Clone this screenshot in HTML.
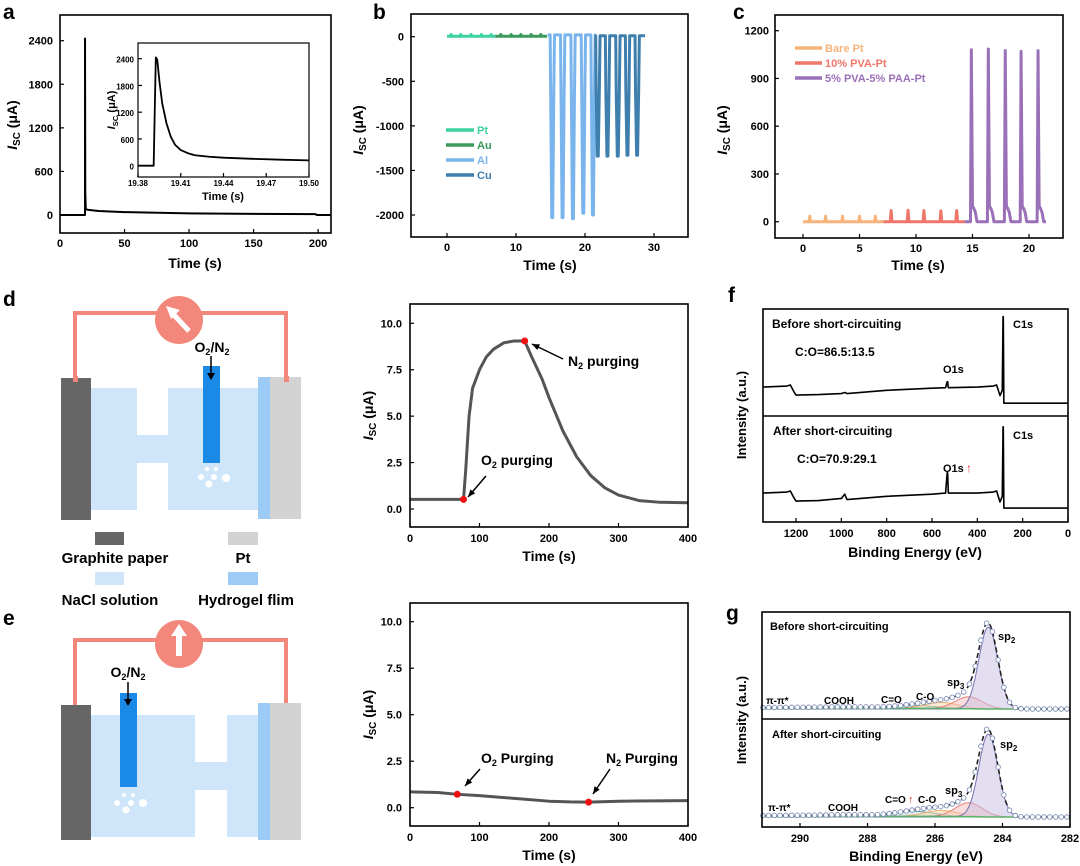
<!DOCTYPE html>
<html><head><meta charset="utf-8"><style>
html,body{margin:0;padding:0;background:#fff;}
svg{display:block;font-family:"Liberation Sans",Arial,sans-serif;font-weight:bold;}
</style></head><body>
<svg id="fig" width="1080" height="866" viewBox="0 0 1080 866" xmlns="http://www.w3.org/2000/svg">
<text x="3" y="19" font-size="21">a</text>
<text x="373" y="19" font-size="21">b</text>
<text x="733" y="19" font-size="21">c</text>
<text x="3" y="306" font-size="21">d</text>
<text x="728" y="302" font-size="21">f</text>
<text x="3" y="625" font-size="21">e</text>
<text x="726" y="620" font-size="21">g</text>

<g>
<polyline points="75,380 75,313 286,313 286,380" fill="none" stroke="#f4877c" stroke-width="4"/>
<rect x="61" y="378" width="30" height="142" fill="#666"/>
<path d="M91,388 H137 V435 H168 V388 H258 V510 H168 V463 H137 V510 H91 Z" fill="#cfe6fa"/>
<rect x="258" y="377" width="12" height="142" fill="#9cccf5"/>
<rect x="270" y="377" width="31" height="142" fill="#d3d3d3"/>
<rect x="73" y="376" width="5" height="6" fill="#f4877c"/>
<rect x="284" y="376" width="5" height="6" fill="#f4877c"/>
<rect x="203" y="366" width="17" height="97" fill="#1a8ae6"/>
<g fill="#fff"><circle cx="207" cy="469" r="2"/><circle cx="216" cy="469" r="2"/><circle cx="201" cy="477" r="3"/><circle cx="214" cy="477" r="3"/><circle cx="226" cy="478" r="4"/><circle cx="209" cy="484" r="3.5"/></g>
<circle cx="179" cy="320" r="24" fill="#f4877c"/>
<line x1="189" y1="331" x2="174" y2="315" stroke="#fff" stroke-width="5"/>
<polygon points="166,306 180,310 171,319" fill="#fff"/>
<text x="212" y="352" font-size="14" text-anchor="middle">O<tspan font-size="9" dy="3">2</tspan><tspan dy="-3">/N</tspan><tspan font-size="9" dy="3">2</tspan></text>
<line x1="211" y1="356" x2="211" y2="376" stroke="#000" stroke-width="1.5"/>
<polygon points="207,373 215,373 211,380" fill="#000"/>
</g>
<g>
<rect x="95" y="532" width="29" height="13" fill="#666"/>
<text x="115" y="563" font-size="15" text-anchor="middle">Graphite paper</text>
<rect x="228" y="532" width="30" height="13" fill="#d3d3d3"/>
<text x="243" y="563" font-size="15" text-anchor="middle">Pt</text>
<rect x="95" y="572" width="29" height="13" fill="#cfe6fa"/>
<text x="110" y="605" font-size="15" text-anchor="middle">NaCl solution</text>
<rect x="228" y="572" width="30" height="13" fill="#9cccf5"/>
<text x="246" y="605" font-size="15" text-anchor="middle">Hydrogel flim</text>
</g>

<g>
<polyline points="75,706 75,640 286,640 286,706" fill="none" stroke="#f4877c" stroke-width="4"/>
<rect x="61" y="705" width="30" height="135" fill="#666"/>
<path d="M91,715 H195 V762 H227 V715 H258 V837 H227 V790 H195 V837 H91 Z" fill="#cfe6fa"/>
<rect x="258" y="703" width="12" height="137" fill="#9cccf5"/>
<rect x="270" y="703" width="31" height="137" fill="#d3d3d3"/>
<rect x="120" y="693" width="17" height="94" fill="#1a8ae6"/>
<g fill="#fff"><circle cx="124" cy="795" r="2"/><circle cx="133" cy="795" r="2"/><circle cx="117" cy="803" r="3"/><circle cx="131" cy="803" r="3"/><circle cx="143" cy="803" r="4"/><circle cx="126" cy="810" r="3.5"/></g>
<circle cx="179" cy="644" r="24" fill="#f4877c"/>
<rect x="176" y="634" width="6" height="22" fill="#fff"/>
<polygon points="171,636 187,636 179,624" fill="#fff"/>
<text x="128" y="677" font-size="14" text-anchor="middle">O<tspan font-size="9" dy="3">2</tspan><tspan dy="-3">/N</tspan><tspan font-size="9" dy="3">2</tspan></text>
<line x1="128" y1="682" x2="128" y2="702" stroke="#000" stroke-width="1.5"/>
<polygon points="124,699 132,699 128,706" fill="#000"/>
</g>
</svg>
<script>
const aTime=[0,19.38,19.39,19.6,20,22,30,50,100,150,198,199,210];
const aCurrent=[0,0,2430,300,80,70,55,40,22,15,12,0,0];
const insetTime=[19.38,19.391,19.3925,19.3935,19.395,19.397,19.40,19.403,19.406,19.41,19.415,19.42,19.43,19.44,19.46,19.48,19.50];
const insetCurrent=[0,0,2430,2380,1900,1400,950,650,470,350,280,235,200,180,155,135,120];

const bPtBumps=[0.6,2,3.5,5,6.4];
const bAuBumps=[7.8,9.3,10.7,12.2,13.6];
const bAlSpikes=[15.3,16.8,18.3,19.8,21.2];
const bAlDepth=[-2030,-2030,-2040,-1980,-2000];
const bCuSpikes=[21.9,23.3,24.8,26.2,27.6];
const bCuDepth=[-1340,-1340,-1340,-1330,-1330];
const bYTicks=[0,-500,-1000,-1500,-2000];
const bXTicks=[0,10,20,30];

const cBareBumps=[0.6,2,3.5,5,6.4];
const cBareHeight=[35,35,35,35,35];
const cPvaBumps=[7.8,9.3,10.7,12.2,13.6];
const cPvaHeight=[70,72,70,68,70];
const cPaaSpikes=[14.9,16.4,17.9,19.3,20.8];
const cPaaHeight=[1080,1085,1075,1070,1075];
const cYTicks=[0,300,600,900,1200];
const cXTicks=[0,5,10,15,20];

const dTime=[0,40,77,80,85,90,100,110,120,135,150,165,175,190,200,220,240,260,280,300,330,360,400];
const dCurrent=[0.52,0.52,0.52,2,5,6.5,7.5,8.2,8.6,8.95,9.05,9.05,8.2,7,6,4.2,2.8,1.8,1.15,0.75,0.45,0.36,0.34];
const dMarkTime=[77,165];
const dMarkCurrent=[0.52,9.05];
const eTime=[0,40,68,100,150,200,230,257,300,350,400];
const eCurrent=[0.85,0.82,0.72,0.65,0.5,0.35,0.31,0.3,0.35,0.37,0.38];
const eMarkTime=[68,257];
const eMarkCurrent=[0.72,0.3];
const deYTicks=[0,2.5,5,7.5,10];
const deXTicks=[0,100,200,300,400];

const fEnergy=[1345,1240,1225,1210,1200,1100,1000,985,975,800,600,540,533,531,528,400,330,315,300,290,286.5,285.5,283,200,0];
const fBefore=[27,28,29,23,19.6,20,21,22,21,24,26,26.5,32,32,26.5,27,28,29,19,24,93,93,12,12,12];
const fAfter=[27,28,29,23,19.6,20,22,26,21,24,26,27,46,46,27,27,28,29,18.7,24,89,89,13,13,13];
const fXTicks=[1200,1000,800,600,400,200,0];

const gPeakNames=['sp2','sp3','C-O','C=O','COOH','pi-pi'];
const gCenters=[284.42,285.0,285.8,286.6,288.5,290.5];
const gWidths=[0.28,0.4,0.5,0.6,0.8,1.0];
const gBeforeHeights=[82,12,6,3,1.5,1];
const gAfterHeights=[83,14,6,5,1.5,1];
const gXTicks=[290,288,286,284,282];

const NS='http://www.w3.org/2000/svg';
const svg=document.getElementById('fig');
function mk(tag,parent){const e=document.createElementNS(NS,tag);(parent||svg).appendChild(e);return e;}
function lin(d0,d1,r0,r1){return v=>r0+(v-d0)*(r1-r0)/(d1-d0);}
function pathFrom(xs,ys,sx,sy){return xs.map((x,i)=>(i?'L':'M')+sx(x).toFixed(2)+','+sy(ys[i]).toFixed(2)).join(' ');}
function txt(parent,x,y,s,size,anchor,name){const t=mk('text',parent);t.setAttribute('x',x);t.setAttribute('y',y);t.setAttribute('font-size',size);t.setAttribute('text-anchor',anchor||'start');t.textContent=s;


return t;}
function frame(g,x0,y0,x1,y1,sw){const r=mk('rect',g);r.setAttribute('x',x0);r.setAttribute('y',y0);r.setAttribute('width',x1-x0);r.setAttribute('height',y1-y0);r.setAttribute('fill','none');r.setAttribute('stroke','#000');r.setAttribute('stroke-width',sw||1.6);

}
function xTicks(g,sx,vals,yb,ly,size,fmt){vals.forEach(v=>{const l=mk('line',g);l.setAttribute('x1',sx(v));l.setAttribute('x2',sx(v));l.setAttribute('y1',yb);l.setAttribute('y2',yb-4);l.setAttribute('stroke','#000');l.setAttribute('stroke-width',1.2);


txt(g,sx(v),ly,fmt?fmt(v):String(v),size||11,'middle','x-tick-label');});}
function yTicks(g,sy,vals,xl,lx,size,fmt){vals.forEach(v=>{const l=mk('line',g);l.setAttribute('x1',xl);l.setAttribute('x2',xl+4);l.setAttribute('y1',sy(v));l.setAttribute('y2',sy(v));l.setAttribute('stroke','#000');l.setAttribute('stroke-width',1.2);


txt(g,lx,sy(v)+4,fmt?fmt(v):String(v),size||11,'end','y-tick-label');});}
function isc(g,x,y,size){const t=mk('text',g);t.setAttribute('transform','translate('+x+','+y+') rotate(-90)');t.setAttribute('text-anchor','middle');t.setAttribute('font-size',size);


t.innerHTML='<tspan font-style="italic">I</tspan><tspan font-size="'+(size*0.7)+'" dy="3">SC</tspan><tspan dy="-3"> (μA)</tspan>';}
function line(g,d,color,w,name,dash){const p=mk('path',g);p.setAttribute('d',d);p.setAttribute('fill','none');p.setAttribute('stroke',color);p.setAttribute('stroke-width',w);p.setAttribute('stroke-linejoin','round');if(dash)p.setAttribute('stroke-dasharray',dash);


return p;}
function group(name){const g=mk('g');


return g;}

(function(){const g=group('chart-a');
const sx=lin(0,210,60,331), sy=lin(0,2400,215,40.7);
line(g,pathFrom(aTime,aCurrent,sx,sy),'#000',2,'line-a');
frame(g,60,15,331,233);
xTicks(g,sx,[0,50,100,150,200],233,247,11);
yTicks(g,sy,[0,600,1200,1800,2400],60,53,11);
txt(g,195,268,'Time (s)',14,'middle','x-axis-title');
isc(g,17,125,14);
const ix=lin(19.38,19.50,138,309), iy=lin(0,2400,165.7,58.7);
line(g,pathFrom(insetTime,insetCurrent,ix,iy),'#000',1.8,'inset-line');
frame(g,138,43,309,177,1.2);
xTicks(g,ix,[19.38,19.41,19.44,19.47,19.50],177,186,8,v=>v.toFixed(2));
yTicks(g,iy,[0,600,1200,1800,2400],138,134,8);
txt(g,223,200,'Time (s)',11,'middle','inset-x-title');
isc(g,115,110,11);
})();

(function(){const g=group('chart-b');
const sx=lin(0,30,447,654), sy=lin(0,-2000,36.7,215);
function bumpSeries(t0,t1,base,bumps,h){const xs=[t0],ys=[base];bumps.forEach(b=>{xs.push(b-0.1,b,b+0.1);ys.push(base,base+h,base);});xs.push(t1);ys.push(base);return [xs,ys];}
function spikeSeries(t0,t1,base,sp,dep){const xs=[t0],ys=[base];sp.forEach((s,i)=>{xs.push(s-0.35,s-0.28,s-0.12,s+0.02,s+0.18,s+0.28);ys.push(base,-600,dep[i],dep[i],-600,base);});xs.push(t1);ys.push(base);return [xs,ys];}
let s;
s=bumpSeries(0,7,5,bPtBumps,20);line(g,pathFrom(s[0],s[1],sx,sy),'#3dd3a0',3,'series-pt');
s=bumpSeries(7,14.5,5,bAuBumps,20);line(g,pathFrom(s[0],s[1],sx,sy),'#3a9a5a',3,'series-au');
s=spikeSeries(14.6,21.5,20,bAlSpikes,bAlDepth);line(g,pathFrom(s[0],s[1],sx,sy),'#7ab4ec',3,'series-al');
s=spikeSeries(21.4,28.7,10,bCuSpikes,bCuDepth);line(g,pathFrom(s[0],s[1],sx,sy),'#3f7fae',3,'series-cu');
frame(g,411,14,688,237);
xTicks(g,sx,bXTicks,237,251,11);
yTicks(g,sy,bYTicks,411,404,11);
txt(g,550,270,'Time (s)',14,'middle','x-axis-title');
isc(g,363,130,14);
const lab=['Pt','Au','Al','Cu'],col=['#3dd3a0','#3a9a5a','#7ab4ec','#3f7fae'];
lab.forEach((n,i)=>{const y=130+i*15;line(g,'M446,'+y+' L474,'+y,col[i],3.5,'legend-swatch-'+n.toLowerCase());const t=txt(g,477,y+4,n,11,'start','legend-label-'+n.toLowerCase());t.setAttribute('fill',col[i]);});
})();

(function(){const g=group('chart-c');
const sx=lin(0,20,803,1029), sy=lin(0,1200,221.7,30.7);
function bumps(t0,t1,arr,h){const xs=[t0],ys=[0];arr.forEach((b,i)=>{xs.push(b-0.08,b,b+0.08);ys.push(0,h[i],0);});xs.push(t1);ys.push(0);return [xs,ys];}
function spikes(t0,t1,arr,h){const xs=[t0],ys=[0];arr.forEach((b,i)=>{xs.push(b-0.08,b,b+0.1,b+0.18,b+0.35,b+0.5);ys.push(0,h[i],90,90,60,0);});xs.push(t1);ys.push(0);return [xs,ys];}
let s;
s=bumps(0,7.1,cBareBumps,cBareHeight);line(g,pathFrom(s[0],s[1],sx,sy),'#f7b47a',3,'series-bare-pt');
s=bumps(7.1,14.3,cPvaBumps,cPvaHeight);line(g,pathFrom(s[0],s[1],sx,sy),'#f0766a',3,'series-pva-pt');
s=spikes(14.3,21.5,cPaaSpikes,cPaaHeight);line(g,pathFrom(s[0],s[1],sx,sy),'#9a70b8',3,'series-pva-paa-pt');
frame(g,775,15,1063,238);
xTicks(g,sx,cXTicks,238,252,11);
yTicks(g,sy,cYTicks,775,769,11);
txt(g,918,270,'Time (s)',14,'middle','x-axis-title');
isc(g,727,130,14);
const lab=['Bare Pt','10% PVA-Pt','5% PVA-5% PAA-Pt'],col=['#f7b47a','#f0766a','#9a70b8'];
lab.forEach((n,i)=>{const y=48+i*15;line(g,'M795,'+y+' L822,'+y,col[i],3.5,'legend-swatch');const t=txt(g,825,y+4,n,11,'start','legend-label');t.setAttribute('fill',col[i]);});
})();

function purgeChart(name,top,bottom,y0,y10,ts,vs,mt,mv,labels){const g=group(name);
const sx=lin(0,400,410,688), sy=lin(0,10,y0,y10);
line(g,pathFrom(ts,vs,sx,sy),'#555',3,'current-line');
mt.forEach((t,i)=>{const c=mk('circle',g);c.setAttribute('cx',sx(t));c.setAttribute('cy',sy(mv[i]));c.setAttribute('r',3.5);c.setAttribute('fill','#f01010');

});
frame(g,410,top,688,bottom);
xTicks(g,sx,deXTicks,bottom,bottom+15,11);
yTicks(g,sy,deYTicks,410,402,11,v=>v.toFixed(1));
txt(g,549,bottom+34,'Time (s)',14,'middle','x-axis-title');
isc(g,373,(top+bottom)/2,14);
labels.forEach(l=>{const t=mk('text',g);t.setAttribute('x',l.x);t.setAttribute('y',l.y);t.setAttribute('font-size',14);


t.innerHTML=l.g+'<tspan font-size="9" dy="3">2</tspan><tspan dy="-3"> '+l.w+'</tspan>';
line(g,'M'+l.a[0]+','+l.a[1]+' L'+l.a[2]+','+l.a[3],'#000',1.5,'annotation-arrow');
const ang=Math.atan2(l.a[3]-l.a[1],l.a[2]-l.a[0]);const hx=l.a[2],hy=l.a[3];
const p=mk('polygon',g);p.setAttribute('points',hx+','+hy+' '+(hx-8*Math.cos(ang-0.4))+','+(hy-8*Math.sin(ang-0.4))+' '+(hx-8*Math.cos(ang+0.4))+','+(hy-8*Math.sin(ang+0.4)));

});
}
purgeChart('chart-d',304,527,509,323.3,dTime,dCurrent,dMarkTime,dMarkCurrent,[
{x:481,y:465,g:'O',w:'purging',a:[486,476,468,497]},
{x:568,y:366,g:'N',w:'purging',a:[563,359,532,344]}]);
purgeChart('chart-e',603,826,807.7,621.7,eTime,eCurrent,eMarkTime,eMarkCurrent,[
{x:481,y:763,g:'O',w:'Purging',a:[480,769,465,786]},
{x:606,y:763,g:'N',w:'Purging',a:[610,769,593,794]}]);

(function(){const g=group('chart-f');
const sx=lin(1200,0,796,1068);
const syU=lin(0,100,416,309), syL=lin(0,100,522,415);
line(g,pathFrom(fEnergy,fBefore,sx,syU),'#000',1.6,'spectrum-before');
line(g,pathFrom(fEnergy,fAfter,sx,syL),'#000',1.6,'spectrum-after');
frame(g,763,309,1068,522);
line(g,'M763,416 L1068,416','#000',1.6,'panel-divider');
xTicks(g,sx,fXTicks,522,537,11);
txt(g,915,557,'Binding Energy (eV)',14,'middle','x-axis-title');
const yt=txt(g,0,0,'Intensity (a.u.)',13,'middle','y-axis-title');yt.setAttribute('transform','translate(746,415) rotate(-90)');
txt(g,772,328,'Before short-circuiting',12,'start','label-before');
txt(g,795,356,'C:O=86.5:13.5',12,'start','ratio-before');
txt(g,943,373,'O1s',11,'start','o1s-before');
txt(g,1013,328,'C1s',11,'start','c1s-before');
txt(g,773,435,'After short-circuiting',12,'start','label-after');
txt(g,797,463,'C:O=70.9:29.1',12,'start','ratio-after');
txt(g,943,472,'O1s',11,'start','o1s-after');
const r=txt(g,966,472,'↑',12,'start','o1s-increase-arrow');r.setAttribute('fill','#e83030');
txt(g,1013,439,'C1s',11,'start','c1s-after');
})();

(function(){const g=group('chart-g');
const sx=lin(290,282,800,1070);
const Emin=291.1,Emax=282;
function comp(k,h,e){return h[k]*Math.exp(-0.5*Math.pow((e-gCenters[k])/gWidths[k],2));}
function draw(heights,y0,tag){
const sy=v=>y0-v;
const es=[];for(let e=Emin;e>=Emax-0.001;e-=0.05)es.push(+e.toFixed(2));
const base=e=>10+0.6*(e>284.4?1:0)*Math.min(1,(e-284.4)/1.5);
const fills=['rgba(200,190,225,0.5)','rgba(245,190,185,0.5)','rgba(250,215,170,0.5)','rgba(180,215,215,0.4)','none','none'];
const strokes=['#7a6fb0','#e8807a','#f0b070','#5aa0b0','#7aa0c0','#7aa0c0'];
for(let k=5;k>=0;k--){const ys=es.map(e=>base(e)+comp(k,heights,e));
const d=pathFrom(es,ys,sx,sy);
const p=line(g,d+' L'+sx(Emax)+','+sy(10)+' L'+sx(Emin)+','+sy(10)+' Z',strokes[k],1,'component-'+gPeakNames[k]+'-'+tag);p.setAttribute('fill',fills[k]);}
line(g,pathFrom(es,es.map(base),sx,sy),'#5ab26a',1.5,'background-'+tag);
const env=es.map(e=>base(e)+gCenters.reduce((s,c,k)=>s+comp(k,heights,e),0));
line(g,pathFrom(es,env,sx,sy),'#222',1.6,'envelope-'+tag,'5,3');
for(let e=Emin;e>=Emax;e-=0.17){const v=base(e)+gCenters.reduce((s,c,k)=>s+comp(k,heights,e),0);
const c=mk('circle',g);c.setAttribute('cx',sx(e));c.setAttribute('cy',sy(v));c.setAttribute('r',2.3);c.setAttribute('fill','#fff');c.setAttribute('stroke','#7f8fb8');c.setAttribute('stroke-width',0.9);

}
}
draw(gBeforeHeights,719,'before');
draw(gAfterHeights,827,'after');
frame(g,762,612,1070,827);
line(g,'M762,719 L1070,719','#000',1.6,'panel-divider');
xTicks(g,sx,gXTicks,827,842,11);
txt(g,916,861,'Binding Energy (eV)',14,'middle','x-axis-title');
const yt=txt(g,0,0,'Intensity (a.u.)',13,'middle','y-axis-title');yt.setAttribute('transform','translate(746,720) rotate(-90)');
txt(g,770,630,'Before short-circuiting',11,'start','label-before');
function sub(x,y,name){const t=mk('text',g);t.setAttribute('x',x);t.setAttribute('y',y);t.setAttribute('font-size',11);t.innerHTML='sp<tspan font-size="8" dy="3">'+name+'</tspan>';

}
sub(998,640,'2');sub(947,686,'3');
txt(g,766,704,'π-π*',10,'start','peak-label-pi');
txt(g,824,704,'COOH',10,'start','peak-label-cooh');
txt(g,881,703,'C=O',10,'start','peak-label-co-double');
txt(g,916,700,'C-O',10,'start','peak-label-co-single');
txt(g,772,738,'After short-circuiting',11,'start','label-after');
sub(1000,748,'2');sub(945,794,'3');
txt(g,768,811,'π-π*',10,'start','peak-label-pi');
txt(g,828,811,'COOH',10,'start','peak-label-cooh');
txt(g,885,803,'C=O',10,'start','peak-label-co-double');
const r=txt(g,908,803,'↑',11,'start','c-o-increase-arrow');r.setAttribute('fill','#e83030');
txt(g,918,803,'C-O',10,'start','peak-label-co-single');
})();
</script>
</body></html>
